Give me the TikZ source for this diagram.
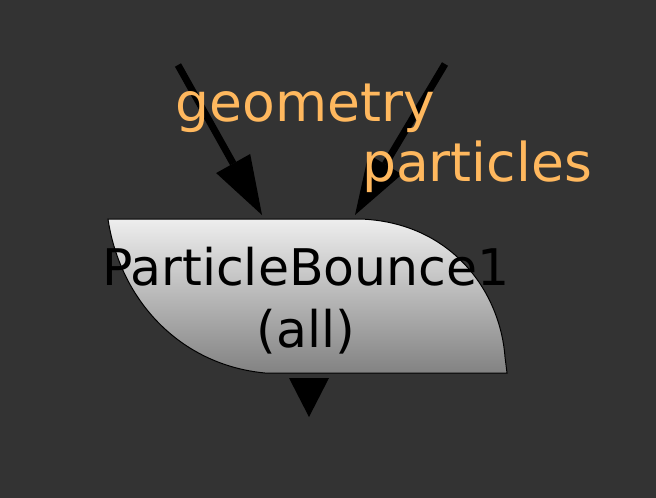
\documentclass[tikz,border=0pt]{standalone}
\usepackage{fontspec}
\setmainfont{DejaVu Sans}
\usepackage{tikz}
\usetikzlibrary{arrows.meta}
\definecolor{bgdark}{RGB}{51,51,51}
\definecolor{labelorange}{RGB}{255,184,94}
\definecolor{shadetop}{RGB}{238,238,238}
\definecolor{shadebottom}{RGB}{130,130,130}

\begin{document}
\begin{tikzpicture}[x=1pt, y=-1pt,
  sopshape/.style={draw=black, line width=1pt, top color=shadetop, bottom color=shadebottom},
  inarrow/.style={draw=black, line width=7pt, -{Triangle[length=59pt, width=39pt, line width=0pt]}},
  outarrow/.style={draw=black, line width=1pt, -{Triangle[length=39pt, width=40pt, line width=0pt]}},
  inputlabel/.style={text=labelorange, font=\fontsize{53.5}{62}\selectfont, inner sep=0pt, anchor=base west}]
  \fill[bgdark] (0,0) rectangle (656,498);

  \draw[sopshape] (108,219) -- (360,219) .. controls (450,222) and (500,290) .. (505,357)
    -- (507,373) -- (265,373) .. controls (180,365) and (120,300) .. (108,219) -- cycle;
  \node[font=\fontsize{50.5}{62}\selectfont, align=center, anchor=base, inner sep=0pt] (bounce) at (306,347) {ParticleBounce1\\(all)};

  \coordinate (geoin) at (178,65);
  \coordinate (geotip) at (262,215);
  \coordinate (partin) at (445,64);
  \coordinate (parttip) at (355,215);
  \coordinate (outbase) at (309,378);
  \coordinate (outtip) at (309,417);

  \draw[inarrow] (geoin) -- (geotip);
  \draw[inarrow] (partin) -- (parttip);
  \draw[outarrow] (outbase) -- (outtip);

  \node[inputlabel] (geolabel) at (175.5,121.5) {geometry};
  \node[inputlabel] (partlabel) at (362,181.7) {particles};
\end{tikzpicture}
\end{document}
